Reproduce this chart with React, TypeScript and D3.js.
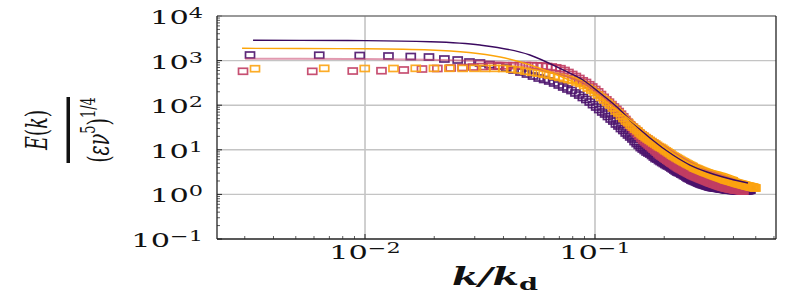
import React from 'react';
import * as d3 from 'd3';

// spectral grid spacing of each run (markers sit at n * kStep, n = 1..150)
const kStepA = 0.003162;
const kStepB = 0.002948;
const kStepC = 0.003324;

// measured spectra, E(k)/(eps nu^5)^(1/4)
const specA = [
  1335, 1320, 1300, 1268, 1235, 1204, 1086, 1031, 930, 883,
  810, 757, 682, 616, 555, 501, 451, 407, 377, 349,
  315, 284, 256, 231, 213, 188, 169, 149, 134, 118,
  103, 91.1, 80.0, 70.4, 63.5, 55.8, 49.0, 44.2, 37.9, 34.2,
  30.0, 27.1, 23.8, 21.5, 19.4, 17.5, 15.3, 13.8, 12.5, 11.2,
  10.4, 9.64, 8.92, 8.47, 8.04, 7.45, 6.89, 6.37, 6.21, 5.75,
  5.46, 5.18, 4.92, 4.68, 4.44, 4.33, 4.11, 3.90, 3.71, 3.52,
  3.34, 3.18, 3.10, 3.02, 2.86, 2.79, 2.65, 2.58, 2.45, 2.33,
  2.27, 2.21, 2.10, 2.05, 2.00, 1.95, 1.90, 1.85, 1.80, 1.76,
  1.71, 1.68, 1.65, 1.62, 1.60, 1.56, 1.54, 1.52, 1.48, 1.46,
  1.45, 1.43, 1.42, 1.41, 1.40, 1.39, 1.38, 1.37, 1.36, 1.35,
  1.34, 1.33, 1.32, 1.31, 1.30, 1.29, 1.28, 1.27, 1.26, 1.25,
  1.25, 1.25, 1.24, 1.24, 1.23, 1.23, 1.23, 1.22, 1.22, 1.22,
  1.21, 1.21, 1.21, 1.20, 1.20, 1.20, 1.19, 1.19, 1.19, 1.19,
  1.19, 1.19, 1.20, 1.20, 1.21, 1.21, 1.22, 1.23, 1.24, 1.25,
];

const specB = [
  576, 574, 584, 593, 616, 648, 665, 682, 700, 719,
  734, 749, 757, 764, 772, 777, 777, 772, 764, 757,
  738, 719, 689, 658, 600, 541, 488, 440, 397, 352,
  323, 287, 256, 225, 199, 173, 150, 132, 117, 103,
  91.1, 80.6, 71.9, 62.8, 54.9, 47.8, 41.6, 36.5, 32.1, 28.4,
  25.5, 22.7, 20.2, 18.0, 16.3, 15.1, 13.9, 12.9, 12.0, 11.1,
  10.3, 9.54, 8.87, 8.21, 7.64, 7.26, 6.86, 6.48, 6.15, 5.84,
  5.54, 5.26, 5.02, 4.80, 4.56, 4.35, 4.15, 3.98, 3.84, 3.71,
  3.58, 3.45, 3.33, 3.23, 3.13, 3.02, 2.93, 2.84, 2.75, 2.67,
  2.62, 2.54, 2.49, 2.43, 2.38, 2.33, 2.27, 2.22, 2.18, 2.14,
  2.09, 2.05, 2.01, 1.97, 1.93, 1.89, 1.85, 1.82, 1.79, 1.76,
  1.73, 1.70, 1.68, 1.65, 1.62, 1.60, 1.57, 1.55, 1.52, 1.51,
  1.48, 1.47, 1.45, 1.43, 1.42, 1.40, 1.39, 1.38, 1.36, 1.35,
  1.34, 1.33, 1.32, 1.31, 1.30, 1.29, 1.28, 1.27, 1.26, 1.26,
  1.25, 1.24, 1.24, 1.23, 1.23, 1.22, 1.21, 1.21, 1.20, 1.19,
];

const specC = [
  658, 671, 665, 665, 671, 670, 672, 669, 671, 668,
  670, 665, 641, 616, 578, 546, 522, 496, 470, 447,
  422, 397, 377, 358, 331, 307, 277, 243, 219, 193,
  169, 149, 131, 115, 101, 86.5, 74.1, 66.8, 57.2, 50.3,
  44.2, 40.5, 35.5, 32.4, 29.2, 26.7, 23.8, 21.7, 20.2, 18.7,
  17.5, 16.3, 15.3, 14.3, 13.5, 12.6, 11.8, 11.3, 10.8, 10.1,
  9.49, 9.06, 8.51, 8.13, 7.60, 7.26, 6.96, 6.64, 6.34, 6.08,
  5.81, 5.60, 5.37, 5.18, 4.98, 4.80, 4.63, 4.49, 4.33, 4.20,
  3.98, 3.88, 3.79, 3.69, 3.60, 3.50, 3.42, 3.33, 3.26, 3.18,
  3.12, 3.05, 2.99, 2.93, 2.86, 2.80, 2.75, 2.69, 2.64, 2.58,
  2.54, 2.50, 2.45, 2.41, 2.37, 2.33, 2.29, 2.25, 2.21, 2.16,
  2.12, 2.10, 2.07, 2.05, 2.02, 2.00, 1.97, 1.95, 1.92, 1.90,
  1.87, 1.85, 1.82, 1.80, 1.77, 1.76, 1.74, 1.72, 1.70, 1.68,
  1.67, 1.65, 1.63, 1.61, 1.60, 1.58, 1.56, 1.55, 1.54, 1.52,
  1.51, 1.50, 1.48, 1.47, 1.46, 1.45, 1.43, 1.42, 1.40, 1.39,
];

// model curves
const modelKA = [0.00326, 0.00521, 0.0100, 0.0192, 0.0316, 0.0521, 0.0726, 0.0887, 0.1051, 0.1247, 0.1463, 0.1734, 0.2183, 0.2588, 0.3069, 0.3603, 0.4627];
const modelEA = [2851, 2836, 2808, 2653, 2237, 1335, 616, 367, 188, 91.1, 39.9, 18.4, 7.64, 4.56, 3.18, 2.45, 1.80];
const modelKB = [0.00301, 0.00521, 0.0100, 0.0192, 0.0387, 0.0637, 0.0887, 0.1247, 0.1617, 0.2183, 0.2588, 0.3069, 0.4064];
const modelEB = [1103, 1097, 1086, 1042, 930, 555, 315, 86.5, 27.8, 8.92, 5.32, 3.52, 2.10];
const modelKC = [0.00292, 0.00521, 0.0100, 0.0192, 0.0387, 0.0637, 0.0887, 0.1247, 0.1617, 0.2183, 0.2588, 0.3069, 0.3603, 0.4188];
const modelEC = [1887, 1868, 1839, 1729, 1204, 555, 256, 78.0, 27.8, 8.47, 5.05, 3.71, 3.02, 2.33];

const yDecades = [-1, 0, 1, 2, 3, 4];
const xDecades = [-2, -1];

const W = 793;
const H = 307;
const left = 217, right = 776, top = 16, bottom = 239;

const x = d3.scaleLog().domain([0.002272, 0.6124]).range([left, right]);
const y = d3.scaleLog().domain([0.1, 10000]).range([bottom, top]);

const runs = [
  { k0: kStepA, E: specA, color: '#4a126b' },
  { k0: kStepB, E: specB, color: '#c13d63' },
  { k0: kStepC, E: specC, color: '#fca311' },
];

const models = [
  { k: modelKB, E: modelEB, color: '#c8466e', width: 2, opacity: 0.55 },
  { k: modelKA, E: modelEA, color: '#3b0a60', width: 1.4, opacity: 1 },
  { k: modelKC, E: modelEC, color: '#fca50a', width: 1.4, opacity: 1 },
];

const serif = 'DejaVu Serif';
const sx = 1.6; // the figure is stretched horizontally

const App = () => {
  const line = d3.line<[number, number]>()
    .x(d => x(d[0]))
    .y(d => y(d[1]))
    .curve(d3.curveMonotoneX);

  const minorX: number[] = [];
  for (let e = -3; e <= -1; e++) {
    for (let m = 2; m <= 9; m++) {
      const v = m * Math.pow(10, e);
      if (v > x.domain()[0] && v < x.domain()[1]) minorX.push(v);
    }
  }
  const minorY: number[] = [];
  for (let e = -1; e <= 3; e++) {
    for (let m = 2; m <= 9; m++) minorY.push(m * Math.pow(10, e));
  }
  const sup = (e: number) => (e < 0 ? '\u2212' + Math.abs(e) : String(e));

  return (
    <svg width={W} height={H} style={{ position: 'absolute', left: 0, top: 0, background: '#fff' }}>
      <rect x={0} y={0} width={W} height={H} fill="#fff" />
      {/* grid */}
      {yDecades.slice(1, -1).map(e => (
        <line key={'gy' + e} x1={left} x2={right} y1={y(Math.pow(10, e))} y2={y(Math.pow(10, e))} stroke="#c4c4c4" strokeWidth={1.4} />
      ))}
      {xDecades.map(e => (
        <line key={'gx' + e} y1={top} y2={bottom} x1={x(Math.pow(10, e))} x2={x(Math.pow(10, e))} stroke="#c4c4c4" strokeWidth={1.6} />
      ))}

      {/* data markers */}
      <g clipPath="url(#plotClip)">
        {runs.map((r, i) => (
          <g key={'run' + i} stroke={r.color} fill="none" strokeWidth={1.7} strokeOpacity={0.9}>
            {r.E.map((v, n) => (
              <rect key={n} x={x((n + 1) * r.k0) - 4.5} y={y(v) - 3} width={9} height={6} />
            ))}
          </g>
        ))}
        {models.map((m, i) => (
          <path key={'m' + i} d={line(m.k.map((k, j) => [k, m.E[j]] as [number, number])) || ''}
            fill="none" stroke={m.color} strokeWidth={m.width} strokeOpacity={m.opacity} />
        ))}
      </g>
      <defs>
        <clipPath id="plotClip">
          <rect x={left} y={top} width={right - left} height={bottom - top} />
        </clipPath>
      </defs>

      {/* ticks (inward) */}
      {yDecades.map(e => (
        <line key={'ty' + e} x1={left} x2={left + 5} y1={y(Math.pow(10, e))} y2={y(Math.pow(10, e))} stroke="#222" strokeWidth={1} />
      ))}
      {minorY.map((v, i) => (
        <line key={'my' + i} x1={left} x2={left + 3} y1={y(v)} y2={y(v)} stroke="#333" strokeWidth={0.8} />
      ))}
      {xDecades.map(e => (
        <line key={'tx' + e} x1={x(Math.pow(10, e))} x2={x(Math.pow(10, e))} y1={bottom} y2={bottom - 5} stroke="#222" strokeWidth={1} />
      ))}
      {minorX.map((v, i) => (
        <line key={'mx' + i} x1={x(v)} x2={x(v)} y1={bottom} y2={bottom - 3} stroke="#333" strokeWidth={0.8} />
      ))}

      {/* spines */}
      <line x1={left} x2={right} y1={top} y2={top} stroke="#777" strokeWidth={1.3} />
      <line x1={right} x2={right} y1={top} y2={bottom} stroke="#222" strokeWidth={1.3} />
      <line x1={left} x2={left} y1={top} y2={bottom} stroke="#222" strokeWidth={1.3} />
      <line x1={left} x2={right} y1={bottom} y2={bottom} stroke="#222" strokeWidth={1.3} />

      {/* tick labels */}
      {yDecades.map(e => (
        <g key={'ly' + e} transform={`translate(203, ${y(Math.pow(10, e)) + 8}) scale(${sx},1)`}>
          <text textAnchor="end" fontFamily={serif} fontSize={19} fill="#111">
            10<tspan dy={-6} fontSize={14}>{sup(e)}</tspan>
          </text>
        </g>
      ))}
      {xDecades.map(e => (
        <g key={'lx' + e} transform={`translate(${x(Math.pow(10, e))}, 259) scale(${sx},1)`}>
          <text textAnchor="middle" fontFamily={serif} fontSize={19} fill="#111">
            10<tspan dy={-6} fontSize={14}>{sup(e)}</tspan>
          </text>
        </g>
      ))}

      {/* x label */}
      <g transform={`translate(495, 285) scale(${sx},1)`}>
        <text textAnchor="middle" fontFamily={serif} fontSize={24} fontStyle="italic" fontWeight="bold" fill="#111">
          k/k<tspan dy={5} fontSize={17} fontStyle="normal">d</tspan>
        </text>
      </g>

      {/* y label: E(k) / (eps nu^5)^(1/4) */}
      <g transform="translate(0,130) rotate(-90)" fill="#111">
        <g transform="translate(0,47) scale(1,1.6)">
          <text textAnchor="middle" fontFamily={serif} fontSize={19}>
            <tspan fontStyle="italic">E</tspan>(<tspan fontStyle="italic">k</tspan>)
          </text>
        </g>
        <rect x={-33} y={66.5} width={66} height={3.5} fill="#111" />
        <g transform="translate(0,109) scale(1,1.6)">
          <text textAnchor="middle" fontFamily={serif} fontSize={19}>
            (<tspan fontStyle="italic">εν</tspan><tspan dy={-9} fontSize={13}>5</tspan><tspan dy={9}>)</tspan><tspan dy={-9} fontSize={13}>1/4</tspan>
          </text>
        </g>
      </g>
    </svg>
  );
};

export default App;
